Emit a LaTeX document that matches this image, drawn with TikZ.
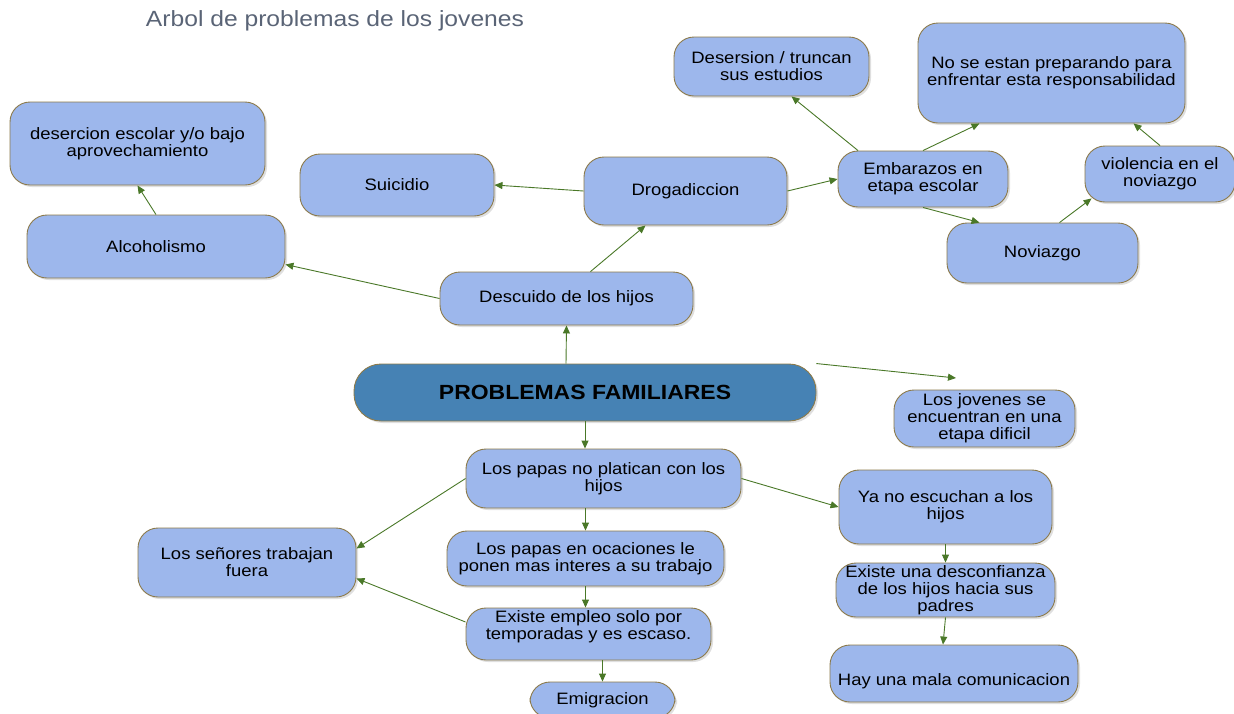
\documentclass[tikz,border=0pt]{standalone}
\usepackage{fontspec}
\setsansfont{Liberation Sans}[FakeStretch=1.12]
\usetikzlibrary{arrows.meta,shadows}
\definecolor{boxfill}{RGB}{157,183,236}
\definecolor{boxline}{RGB}{140,122,74}
\definecolor{mainfill}{RGB}{70,130,180}
\definecolor{arrowgreen}{RGB}{74,120,40}
\definecolor{titlegray}{RGB}{90,100,118}

\begin{document}
\begin{tikzpicture}[x=1pt, y=-1pt, every node/.style={font=\sffamily\fontsize{16.5}{17}\selectfont}, align=center,
  box/.style={draw=boxline, fill=boxfill, line width=0.9pt, rounded corners=20pt, inner sep=1pt,
    drop shadow={shadow xshift=2pt, shadow yshift=-2pt, opacity=0.25}},
  link/.style={draw=arrowgreen, line width=0.9pt, -{Triangle[length=8pt, width=7pt]}}]
\useasboundingbox (0,0) rectangle (1234,713);
% Specification of nodes (position, size)

\node (titulo)              [text=titlegray, font=\sffamily\fontsize{22}{25}\selectfont] at (335,21) {Arbol de problemas de los jovenes};

\node (desercion-escolar)   [box, minimum width=255pt, minimum height=83pt] at (137.5,143.5) {desercion escolar y/o bajo\\aprovechamiento};
\node (suicidio)            [box, minimum width=194pt, minimum height=62pt] at (397,185)     {Suicidio};
\node (alcoholismo)         [box, minimum width=258pt, minimum height=63pt] at (156,246.5)   {Alcoholismo};
\node (drogadiccion)        [box, minimum width=203pt, minimum height=68pt] at (685.5,191)   {Drogadiccion};
\node (descuido)            [box, minimum width=253pt, minimum height=53pt] at (566.5,298.5) {Descuido de los hijos};
\node (desersion)           [box, minimum width=195pt, minimum height=59pt] at (771.5,66.5)  {Desersion / truncan\\sus estudios};
\node (preparando)          [box, minimum width=267pt, minimum height=100pt] at (1051.5,73)  {No se estan preparando para\\enfrentar esta responsabilidad};
\node (embarazos)           [box, minimum width=170pt, minimum height=56pt] at (923,179)     {Embarazos en\\etapa escolar};
\node (violencia)           [box, minimum width=150pt, minimum height=56pt] at (1160,174)    {violencia en el\\noviazgo};
\node (noviazgo)            [box, minimum width=191pt, minimum height=60pt] at (1042.5,253)  {Noviazgo};

\node (problemas)           [box, fill=mainfill, rounded corners=27pt, minimum width=462pt, minimum height=57pt,
                             font=\sffamily\bfseries\fontsize{20.5}{23}\selectfont] at (585,392.5) {PROBLEMAS FAMILIARES};
\node (jovenes)             [box, minimum width=181pt, minimum height=57pt] at (984.5,418.5) {Los jovenes se\\encuentran en una\\etapa dificil};

\node (papas-platican)      [box, minimum width=275pt, minimum height=59pt] at (603.5,478.5) {Los papas no platican con los\\hijos};
\node (senores)             [box, minimum width=218pt, minimum height=69pt] at (247,562.5)   {Los señores trabajan\\fuera};
\node (papas-ocaciones)     [box, minimum width=277pt, minimum height=55pt] at (585.5,558.5) {Los papas en ocaciones le\\ponen mas interes a su trabajo};
\node (empleo)              [box, minimum width=245pt, minimum height=52pt] at (588.5,634)   {Existe empleo solo por\\temporadas y es escaso.\\\mbox{}};
\node (emigracion)          [box, minimum width=145pt, minimum height=36pt] at (602.5,700)   {Emigracion};

\node (escuchan)            [box, minimum width=213pt, minimum height=74pt] at (945.5,507)   {Ya no escuchan a los\\hijos};
\node (desconfianza)        [box, minimum width=219pt, minimum height=54pt] at (945.5,590)   {Existe una desconfianza\\de los hijos hacia sus\\padres};
\node (comunicacion)        [box, minimum width=248pt, minimum height=57pt, text height=27pt, text depth=4pt] at (954,673.5) {Hay una mala comunicacion};

\coordinate (flecha-libre) at (956,378);

% Connectors
\draw[link] (alcoholismo.north) -- (desercion-escolar.south);
\draw[link] (descuido.west) -- ([yshift=-18pt]alcoholismo.east);
\draw[link] ([xshift=24pt]descuido.north) -- ([xshift=-40pt]drogadiccion.south);
\draw[link] (drogadiccion.west) -- (suicidio.east);
\draw[link] (drogadiccion.east) -- (embarazos.west);
\draw[link] ([xshift=-65pt]embarazos.north) -- ([xshift=20pt]desersion.south);
\draw[link] (embarazos.north) -- ([xshift=-72pt]preparando.south);
\draw[link] (embarazos.south) -- ([xshift=-63pt]noviazgo.north);
\draw[link] ([xshift=17pt]noviazgo.north) -- ([xshift=7pt, yshift=4pt]violencia.south west);
\draw[link] (violencia.north) -- ([xshift=82pt]preparando.south);

\draw[link] ([xshift=-19pt]problemas.north) -- (descuido.south);
\draw[link] (problemas.north east) -- (flecha-libre);
\draw[link] (problemas.south) -- (problemas.south |- papas-platican.north);
\draw[link] (papas-platican.west) -- ([yshift=14pt]senores.east);
\draw[link] (papas-platican.east) -- (escuchan.west);
\draw[link] (papas-ocaciones.north |- papas-platican.south) -- (papas-ocaciones.north);
\draw[link] (papas-ocaciones.south) -- (papas-ocaciones.south |- empleo.north);
\draw[link] ([yshift=12pt]empleo.west) -- ([yshift=-16pt]senores.east);
\draw[link] (emigracion.north |- empleo.south) -- (emigracion.north);

\draw[link] (escuchan.south) -- (desconfianza.north);
\draw[link] (desconfianza.south) -- ([xshift=-11pt]comunicacion.north);

\end{tikzpicture}
\end{document}
